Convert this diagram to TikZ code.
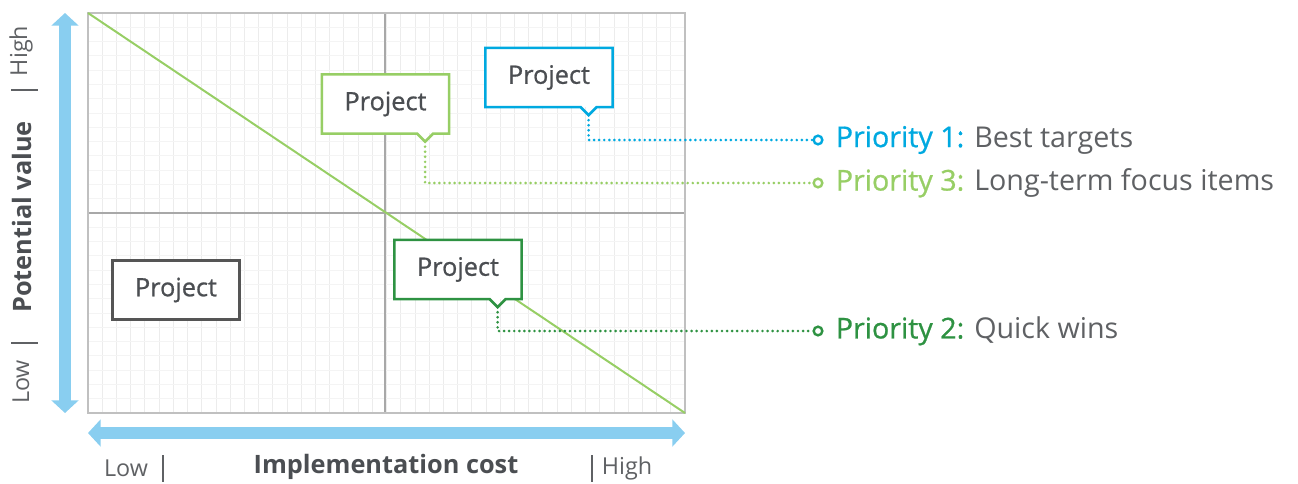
\documentclass[tikz,border=0pt]{standalone}
\usepackage{fontspec}
\setmainfont{Open Sans}
\newfontfamily\mediumfont{Open Sans}[FakeBold=0.8]
\usetikzlibrary{arrows.meta, positioning}

\definecolor{axisblue}{RGB}{137,206,240}
\definecolor{prioblue}{RGB}{0,169,224}
\definecolor{priolight}{RGB}{151,206,101}
\definecolor{priodark}{RGB}{46,146,66}
\definecolor{textgrey}{RGB}{75,78,82}
\definecolor{lightgrey}{RGB}{95,97,100}
\definecolor{framegrey}{RGB}{192,192,192}
\definecolor{midgrey}{RGB}{168,168,168}
\definecolor{gridgrey}{RGB}{236,236,236}
\definecolor{gridfaint}{RGB}{244,244,244}
\definecolor{boxgrey}{RGB}{85,85,85}

\begin{document}
\begin{tikzpicture}
[
x=0.75pt, y=-0.75pt,
ProjectNode/.style={rectangle, fill=white, inner sep=0pt,
minimum width=95pt, minimum height=44pt, text=textgrey,
font=\mediumfont\fontsize{19}{21}\selectfont},
BoxLine/.style={line width=2pt, line join=miter},
DotLine/.style={line width=2.2pt, dash pattern=on 0pt off 3.8pt, line cap=round},
EndNode/.style={circle, line width=1.8pt, fill=white,
inner sep=0pt, minimum size=6.5pt},
PrioNode/.style={inner sep=0pt, text=lightgrey,
font=\fontsize{21.5}{25}\selectfont},
AxisTitle/.style={text=textgrey, font=\bfseries\fontsize{19}{22}\selectfont},
AxisEnd/.style={text=lightgrey, font=\fontsize{17.5}{20}\selectfont},
AxisArrow/.style={axisblue, line width=9.5pt,
{Triangle[width=20pt,length=9.5pt]}-{Triangle[width=20pt,length=9.5pt]}}
]
\useasboundingbox (0,0) rectangle (1298,483);

% grid
\foreach \i in {1,...,41}
  \draw[gridgrey, line width=0.6pt] ({88+\i*14.214},13) -- ++(0,400);
\foreach \j in {1,...,27}
  \draw[gridfaint, line width=0.6pt] (88,{13+\j*14.286}) -- ++(597,0);
\draw[midgrey, line width=1pt] (385,13) -- (385,413);
\draw[midgrey, line width=1pt] (88,213) -- (685,213);
\draw[framegrey, line width=1.5pt] (88,13) rectangle (685,413);
\draw[priolight, line width=1.5pt] (88,13) -- (685,413);

% axes
\draw[AxisArrow] (65,13) -- (65,413);
\draw[AxisArrow] (88,433) -- (685,433);

\node[AxisTitle, rotate=90] (ValueTitle) at (22,217) {Potential value};
\node[AxisEnd, rotate=90] (ValueHigh) at (21,51) {High};
\node[AxisEnd, rotate=90] (ValueLow) at (21,382) {Low};
\draw[lightgrey, line width=0.8pt] (11,90) -- (38,90);
\draw[lightgrey, line width=0.8pt] (11,343) -- (38,343);

\node[AxisTitle] (CostTitle) at (386,467) {Implementation cost};
\node[AxisEnd] (CostLow) at (126,468) {Low};
\node[AxisEnd] (CostHigh) at (627,468) {High};
\draw[lightgrey, line width=0.8pt] (163,455) -- (163,482);
\draw[lightgrey, line width=0.8pt] (592,455) -- (592,482);

% projects
\node[ProjectNode, draw=boxgrey, line width=2pt] (ProjGrey) at (176,290) {Project};
\node[ProjectNode] (ProjOne) at (549,77.5) {Project};
\node[ProjectNode] (ProjThree) at (385.5,104) {Project};
\node[ProjectNode] (ProjTwo) at (458,269.5) {Project};

\draw[BoxLine, prioblue] (ProjOne.north west) -| (ProjOne.south east) -- ++(-16,0)
  -- ++(-8,8) coordinate (TipOne) -- ++(-8,-8) -- (ProjOne.south west) -- cycle;
\draw[BoxLine, priolight] (ProjThree.north west) -| (ProjThree.south east) -- ++(-16,0)
  -- ++(-8,8) coordinate (TipThree) -- ++(-8,-8) -- (ProjThree.south west) -- cycle;
\draw[BoxLine, priodark] (ProjTwo.north west) -| (ProjTwo.south east) -- ++(-16,0)
  -- ++(-8,8) coordinate (TipTwo) -- ++(-8,-8) -- (ProjTwo.south west) -- cycle;

% priorities
\node[EndNode, draw=prioblue] (EndOne) at (818,140) {};
\node[EndNode, draw=priolight] (EndThree) at (818,183) {};
\node[EndNode, draw=priodark] (EndTwo) at (818,331) {};

\draw[DotLine, prioblue] (TipOne) |- (EndOne);
\draw[DotLine, priolight] (TipThree) |- (EndThree);
\draw[DotLine, priodark] (TipTwo) |- (EndTwo);

\node[PrioNode, right=9pt of EndOne] (PrioOne)
  {\textcolor{prioblue}{\mediumfont Priority 1:} Best targets};
\node[PrioNode, right=9pt of EndThree] (PrioThree)
  {\textcolor{priolight}{\mediumfont Priority 3:} Long-term focus items};
\node[PrioNode, right=9pt of EndTwo] (PrioTwo)
  {\textcolor{priodark}{\mediumfont Priority 2:} Quick wins};
\end{tikzpicture}
\end{document}
